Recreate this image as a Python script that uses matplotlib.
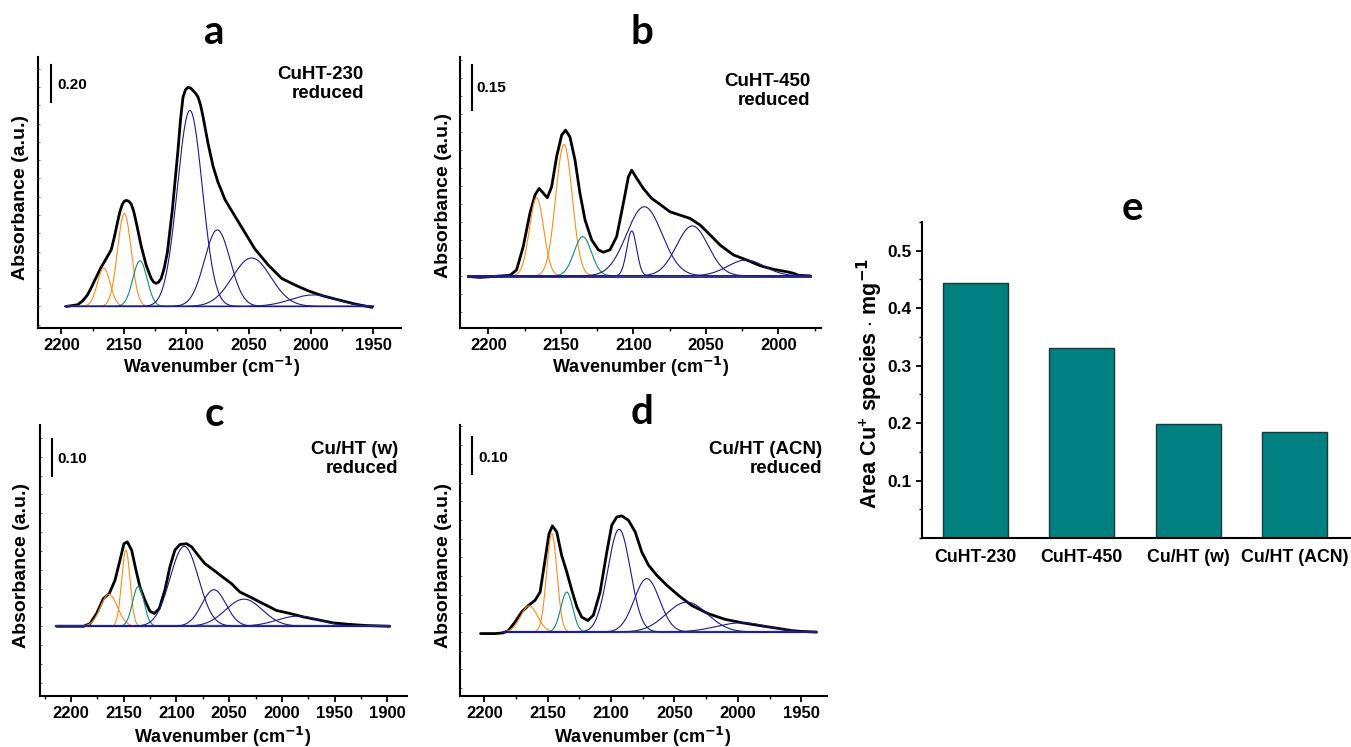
import numpy as np
import matplotlib
matplotlib.use("Agg")
import matplotlib.pyplot as plt
from matplotlib.ticker import MultipleLocator

plt.rcParams['font.family'] = ['Liberation Sans', 'DejaVu Sans']
plt.rcParams['font.weight'] = 'bold'
plt.rcParams['mathtext.fontset'] = 'custom'
plt.rcParams['mathtext.rm'] = 'Liberation Sans:bold'
plt.rcParams['mathtext.bf'] = 'Liberation Sans:bold'
plt.rcParams['mathtext.default'] = 'bf'

# ---- panel a: CuHT-230 reduced ----
a_black_wn = [2196, 2187, 2183, 2179, 2175.5, 2172, 2168.5, 2165, 2162.5, 2160, 2157.5, 2155,
              2153, 2151, 2149.5, 2148, 2146, 2144, 2142, 2140, 2136, 2132, 2128, 2126, 2124,
              2122, 2120, 2117.5, 2115, 2111, 2106.5, 2104.5, 2102.5, 2100.5, 2098.5, 2096.5,
              2094.4, 2092.4, 2090.4, 2088.4, 2086.4, 2082.4, 2078.4, 2074.3, 2071.5, 2069,
              2065, 2061, 2053, 2045, 2034, 2023.4, 2012.7, 2002, 1991, 1978, 1964.5, 1951]
a_black_abs = [0, 0.009, 0.03, 0.063, 0.11, 0.16, 0.21, 0.25, 0.28, 0.31, 0.38, 0.46,
               0.52, 0.56, 0.575, 0.58, 0.575, 0.56, 0.52, 0.46, 0.33, 0.225, 0.153, 0.133,
               0.126, 0.133, 0.153, 0.21, 0.297, 0.53, 0.856, 1.02, 1.144, 1.185, 1.198,
               1.195, 1.18, 1.165, 1.144, 1.1, 1.036, 0.89, 0.766, 0.676, 0.63, 0.586,
               0.54, 0.495, 0.405, 0.315, 0.225, 0.153, 0.117, 0.085, 0.059, 0.036, 0.013,
               -0.005]
a_centers = [2166, 2149.5, 2137, 2097, 2075, 2047.5, 1998]
a_heights = [0.21, 0.508, 0.25, 1.072, 0.418, 0.265, 0.063]
a_sigmas = [5.1, 5.5, 5.7, 10.0, 10.3, 15.4, 18]
a_span = (2197, 1950)

# ---- panel b: CuHT-450 reduced ----
b_black_wn = [2213.8, 2205.7, 2196.6, 2185, 2180.5, 2175.9, 2171.3, 2167.8, 2165, 2162,
              2159.3, 2156.3, 2152.9, 2149.4, 2146.7, 2143.7, 2140.2, 2136.8, 2133.3, 2128.7,
              2124.1, 2120.7, 2116.1, 2111.5, 2106.9, 2103.4, 2101.1, 2097.7, 2093.1, 2087.4,
              2081.6, 2074.7, 2067.8, 2060.9, 2054, 2047.1, 2040.2, 2031, 2021.8, 2012.6,
              2003.4, 1994.3, 1989.7, 1986.2, 1978]
b_black_abs = [-0.002, -0.005, -0.002, 0.002, 0.02, 0.098, 0.209, 0.27, 0.292, 0.276, 0.261,
               0.298, 0.398, 0.47, 0.487, 0.464, 0.387, 0.276, 0.187, 0.12, 0.087, 0.079,
               0.087, 0.131, 0.242, 0.331, 0.353, 0.326, 0.292, 0.259, 0.239, 0.214, 0.203,
               0.192, 0.17, 0.137, 0.103, 0.07, 0.053, 0.034, 0.022, 0.014, 0.009, 0.002, 0.0]
b_centers = [2166.7, 2147.8, 2134.9, 2101.1, 2092.4, 2059.3, 2022.3]
b_heights = [0.261, 0.439, 0.131, 0.15, 0.231, 0.167, 0.053]
b_sigmas = [4.9, 5.7, 6.0, 3.4, 12.2, 10.9, 12.7]
b_span = (2214, 1978)

# ---- panel c: Cu/HT (w) reduced ----
c_black_wn = [2213.6, 2201, 2188, 2182, 2175.7, 2169.4, 2163.7, 2158.3, 2153.6, 2149.8,
              2146.6, 2142.5, 2138.4, 2134.6, 2129.9, 2125.2, 2121, 2116.3, 2111, 2106.2,
              2101.5, 2096.7, 2090.4, 2085.7, 2079.4, 2073, 2065.2, 2057.3, 2047.8, 2039.9,
              2030.4, 2017.8, 2005.2, 1992.5, 1979.9, 1967.3, 1951.5, 1935.7, 1919.9, 1897.8]
c_black_abs = [0, 0, 0, 0.007, 0.034, 0.073, 0.087, 0.122, 0.175, 0.219, 0.224, 0.202,
               0.149, 0.104, 0.069, 0.04, 0.034, 0.047, 0.096, 0.158, 0.202, 0.217, 0.219,
               0.211, 0.188, 0.166, 0.15, 0.133, 0.113, 0.091, 0.078, 0.06, 0.042, 0.034,
               0.025, 0.018, 0.009, 0.005, 0.002, 0.0]
c_centers = [2164, 2148, 2136.2, 2092.6, 2064.5, 2036, 1984.6]
c_heights = [0.085, 0.202, 0.106, 0.212, 0.097, 0.072, 0.027]
c_sigmas = [8, 4.0, 5.4, 13.4, 11.4, 17.4, 20]
c_span = (2214, 1898)

# ---- panel d: Cu/HT (ACN) reduced ----
d_black_wn = [2203, 2191.6, 2185, 2181, 2175.8, 2170.5, 2165.3, 2160, 2156, 2152, 2149,
              2146.3, 2142.9, 2139, 2135, 2131, 2127, 2123.2, 2118.4, 2114, 2108.7, 2103.4,
              2099.5, 2095.5, 2091.6, 2086.3, 2081, 2075.8, 2070.5, 2064, 2056, 2046.8,
              2036.3, 2023.2, 2010, 1996.8, 1983.7, 1970.5, 1957.4, 1950.8, 1938]
d_black_abs = [-0.004, -0.004, -0.002, 0.004, 0.027, 0.054, 0.071, 0.085, 0.107, 0.196,
               0.263, 0.284, 0.268, 0.205, 0.161, 0.112, 0.067, 0.04, 0.031, 0.045, 0.107,
               0.214, 0.286, 0.308, 0.311, 0.299, 0.268, 0.214, 0.179, 0.152, 0.125, 0.098,
               0.071, 0.049, 0.034, 0.025, 0.018, 0.011, 0.004, 0.002, 0.0]
d_centers = [2164.7, 2146.8, 2135, 2093.7, 2071.8, 2040.3, 1996.8]
d_heights = [0.07, 0.263, 0.107, 0.275, 0.143, 0.08, 0.025]
d_sigmas = [6.7, 4.1, 4.7, 8.9, 10, 16.2, 20]
d_span = (2185, 1938)

# component families: two orange, one teal, four navy in every fit
comp_kinds = ['orange', 'orange', 'teal', 'navy', 'navy', 'navy', 'navy']
kind_colors = {'orange': '#ff8c1a', 'teal': '#108a80', 'navy': '#1a1a8c'}

sample_names = ['CuHT-230\nreduced', 'CuHT-450\nreduced', 'Cu/HT (w)\nreduced', 'Cu/HT (ACN)\nreduced']
scale_values = [0.20, 0.15, 0.10, 0.10]

# ---- panel e: bar chart ----
bar_labels = ['CuHT-230', 'CuHT-450', 'Cu/HT (w)', 'Cu/HT (ACN)']
bar_values = [0.443, 0.330, 0.199, 0.184]

W, H = 1351, 747
fig = plt.figure(figsize=(W / 100, H / 100), dpi=100)


def px_rect(left, top, right, bottom):
    return [left / W, 1 - bottom / H, (right - left) / W, (bottom - top) / H]


panels = [
    dict(rect=px_rect(38, 57, 401, 328), xlim=(2218.7, 1927.8), ylim=(-0.118, 1.364),
         xticks=np.arange(2200, 1949, -50), ystep=0.1,
         wn=a_black_wn, ab=a_black_abs, cen=a_centers, hei=a_heights, sig=a_sigmas, span=a_span,
         bar_x=2208, bar_y=1.118, lab_x=2203.5, lab_y=1.213, name_xy=(0.898, 0.902),
         letter='a', letter_xy=(214, 33), xlab_xy=(212, 367), ylab_xy=(21, 197), base_lw=1.0),
    dict(rect=px_rect(460, 57, 821, 328), xlim=(2219.5, 1970.6), ylim=(-0.174, 0.731),
         xticks=np.arange(2200, 1999, -50), ystep=0.06,
         wn=b_black_wn, ab=b_black_abs, cen=b_centers, hei=b_heights, sig=b_sigmas, span=b_span,
         bar_x=2211.5, bar_y=0.553, lab_x=2208, lab_y=0.626, name_xy=(0.97, 0.876),
         letter='b', letter_xy=(642, 33), xlab_xy=(641, 367), ylab_xy=(443, 195), base_lw=2.0),
    dict(rect=px_rect(40, 425, 407, 696), xlim=(2229.4, 1881.4), ylim=(-0.185, 0.534),
         xticks=np.arange(2200, 1899, -50), ystep=0.05,
         wn=c_black_wn, ab=c_black_abs, cen=c_centers, hei=c_heights, sig=c_sigmas, span=c_span,
         bar_x=2217.7, bar_y=0.398, lab_x=2212.6, lab_y=0.443, name_xy=(0.975, 0.873),
         letter='c', letter_xy=(214, 415), xlab_xy=(223, 737), ylab_xy=(22, 565), base_lw=1.6),
    dict(rect=px_rect(460, 425, 827, 696), xlim=(2219.2, 1929.7), ylim=(-0.171, 0.554),
         xticks=np.arange(2200, 1949, -50), ystep=0.05,
         wn=d_black_wn, ab=d_black_abs, cen=d_centers, hei=d_heights, sig=d_sigmas, span=d_span,
         bar_x=2209.5, bar_y=0.422, lab_x=2205, lab_y=0.467, name_xy=(0.987, 0.874),
         letter='d', letter_xy=(642, 413), xlab_xy=(643, 737), ylab_xy=(443, 565), base_lw=1.6),
]

for i, p in enumerate(panels):
    ax = fig.add_axes(p['rect'])
    ax.plot(p['wn'], p['ab'], color='black', lw=2.0, zorder=3,
            solid_joinstyle='round', solid_capstyle='round')
    x = np.linspace(p['span'][0], p['span'][1], 800)
    ax.plot([p['span'][0], p['span'][1]], [0, 0], color=kind_colors['navy'],
            lw=p['base_lw'], zorder=3.5)
    for c, h, s, k in zip(p['cen'], p['hei'], p['sig'], comp_kinds):
        y = h * np.exp(-0.5 * ((x - c) / s) ** 2)
        ax.plot(x, y, color=kind_colors[k], lw=0.8, zorder=4)

    ax.set_xlim(*p['xlim'])
    ax.set_ylim(*p['ylim'])
    ax.set_xticks(p['xticks'])
    ax.xaxis.set_minor_locator(MultipleLocator(25))
    ax.yaxis.set_major_locator(MultipleLocator(p['ystep']))
    ax.set_yticklabels([])
    ax.tick_params(axis='x', which='major', direction='out', length=4.5, width=1.3,
                   labelsize=12, pad=2.5)
    ax.tick_params(axis='x', which='minor', direction='out', length=2.5, width=1.0)
    ax.tick_params(axis='y', which='major', direction='in', length=1.5, width=0.6,
                   color='#555555')
    for lab in ax.get_xticklabels():
        lab.set_fontweight('bold')
    for side in ('top', 'right'):
        ax.spines[side].set_visible(False)
    for side in ('left', 'bottom'):
        ax.spines[side].set_linewidth(1.5)

    # scale bar
    ax.plot([p['bar_x'], p['bar_x']], [p['bar_y'], p['bar_y'] + scale_values[i]],
            color='black', lw=1.5, clip_on=False)
    ax.text(p['lab_x'], p['lab_y'], f"{scale_values[i]:.2f}", ha='left', va='center',
            fontsize=11, fontweight='bold')
    ax.text(p['name_xy'][0], p['name_xy'][1], sample_names[i], transform=ax.transAxes,
            ha='right', va='center', fontsize=13.5, fontweight='bold', linespacing=1.15,
            multialignment='right')

    fig.text(p['letter_xy'][0] / W, 1 - p['letter_xy'][1] / H, p['letter'],
             ha='center', va='center', fontsize=29, fontweight='bold', family=['Lato', 'DejaVu Sans'])
    fig.text(p['xlab_xy'][0] / W, 1 - p['xlab_xy'][1] / H, r'Wavenumber (cm$^{\mathsf{-1}}$)',
             ha='center', va='center', fontsize=13, fontweight='bold')
    fig.text(p['ylab_xy'][0] / W, 1 - p['ylab_xy'][1] / H, 'Absorbance (a.u.)',
             ha='center', va='center', rotation=90, fontsize=14, fontweight='bold')

# ---- panel e ----
axe = fig.add_axes(px_rect(922, 222, 1350, 538))
pos = np.arange(1, len(bar_values) + 1)
axe.bar(pos, bar_values, width=0.61, color='#008080', edgecolor='#1d3a3a', linewidth=1.0)
axe.set_xlim(0.5, 4.52)
axe.set_ylim(0, 0.55)
axe.set_xticks(pos)
axe.set_xticklabels(bar_labels, fontsize=12.8, fontweight='bold')
axe.set_yticks([0.1, 0.2, 0.3, 0.4, 0.5])
axe.yaxis.set_minor_locator(MultipleLocator(0.05))
axe.tick_params(axis='x', length=0, pad=8)
axe.tick_params(axis='y', which='major', direction='out', length=4.5, width=1.3, labelsize=12.5, pad=3)
axe.tick_params(axis='y', which='minor', direction='out', length=2.5, width=1.0)
for lab in axe.get_yticklabels():
    lab.set_fontweight('bold')
for side in ('top', 'right'):
    axe.spines[side].set_visible(False)
for side in ('left', 'bottom'):
    axe.spines[side].set_linewidth(1.5)
fig.text(870 / W, 1 - 383 / H, r'Area Cu$^{+}$ species $\cdot$ mg$^{\mathsf{-1}}$',
         ha='center', va='center', rotation=90, fontsize=15.5, fontweight='bold')
fig.text(1132 / W, 1 - 208 / H, 'e', ha='center', va='center', fontsize=29,
         fontweight='bold', family=['Lato', 'DejaVu Sans'])

fig.savefig('out.png', dpi=100)
